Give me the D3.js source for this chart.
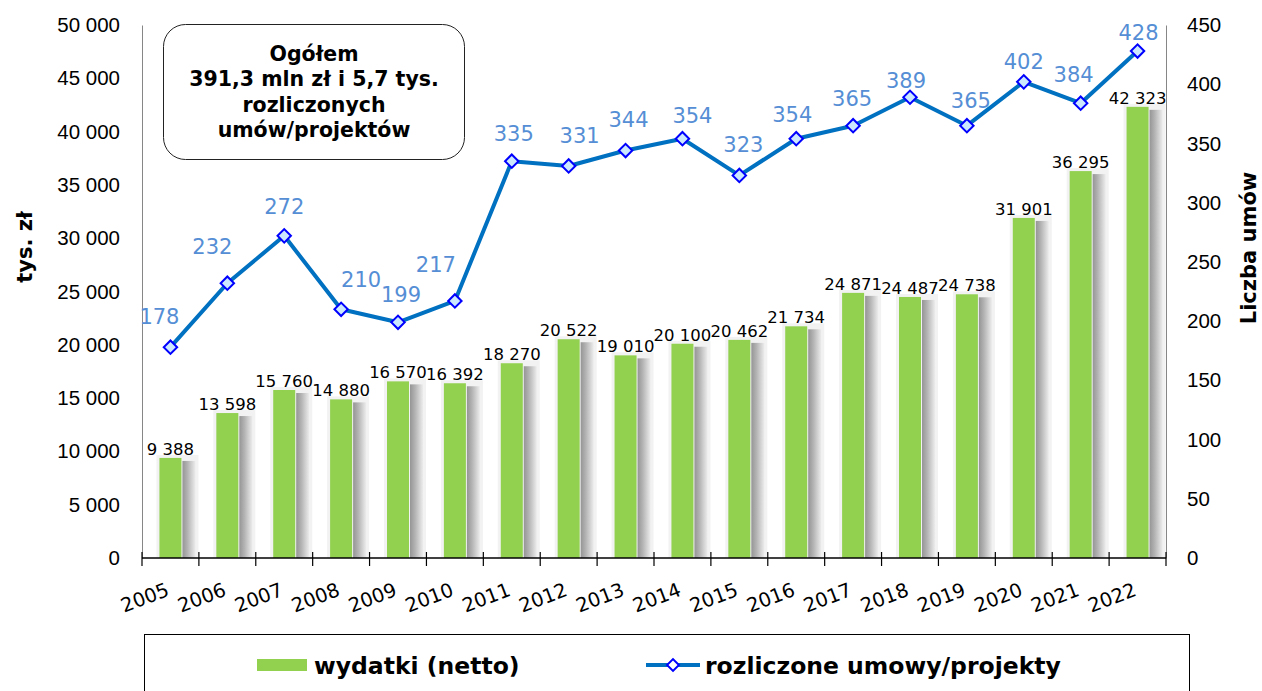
<!DOCTYPE html>
<html>
<head>
<meta charset="utf-8">
<script src="https://cdn.jsdelivr.net/npm/d3@7"></script>
<style>
  body { margin: 0; background: #fff; }
  svg { font-family: "DejaVu Sans", Verdana, sans-serif; }
</style>
</head>
<body>
<svg id="chart" width="1262" height="691"></svg>
<script>
// dane
const years = ["2005","2006","2007","2008","2009","2010","2011","2012","2013","2014","2015","2016","2017","2018","2019","2020","2021","2022"];
const wydatki = [9388,13598,15760,14880,16570,16392,18270,20522,19010,20100,20462,21734,24871,24487,24738,31901,36295,42323];
const umowy = [178,232,272,210,199,217,335,331,344,354,323,354,365,389,365,402,384,428];
const leftTicks = [0,5000,10000,15000,20000,25000,30000,35000,40000,45000,50000];
const rightTicks = [0,50,100,150,200,250,300,350,400,450];
// przesuniecia etykiet linii (jak w oryginale, recznie poprzesuwane)
const labelNudge = [[-11,-30],[-15,-36],[0,-29],[20,-29],[3,-27],[-19,-36],[2,-27],[11,-30],[3,-31],[10,-23],[4,-30],[-4,-24],[-1,-27],[-4,-16],[4,-25],[0,-20],[-7,-28],[1,-18]];

const svg = d3.select("#chart");
const x0 = 142, x1 = 1166, yTop = 25, yBot = 558;

const fmt = d3.formatLocale({decimal: ",", thousands: " ", grouping: [3], currency: ["", ""]}).format(",d");

let x = d3.scaleBand().domain(years).range([x0, x1]).padding(0);
let yL = d3.scaleLinear().domain([0, 50000]).range([yBot, yTop]);
let yR = d3.scaleLinear().domain([0, 450]).range([yBot, yTop]);

// gradient do cienia slupkow
let defs = svg.append("defs");
let grad = defs.append("linearGradient").attr("id", "shadow").attr("x1", "0").attr("x2", "1").attr("y1", "0").attr("y2", "0");
grad.append("stop").attr("offset", "0").attr("stop-color", "#959595");
grad.append("stop").attr("offset", "0.4").attr("stop-color", "#b4b4b4");
grad.append("stop").attr("offset", "1").attr("stop-color", "#ececec");

// osie Y
svg.append("g")
  .attr("transform", `translate(${x0},0)`)
  .call(d3.axisLeft(yL).tickValues(leftTicks).tickSize(0).tickPadding(22).tickFormat(fmt))
  .call(g => g.select(".domain").attr("stroke", "#868686"))
  .selectAll("text").style("font-size", "20.5px").attr("fill", "#000");

svg.append("g")
  .attr("transform", `translate(${x1},0)`)
  .call(d3.axisRight(yR).tickValues(rightTicks).tickSize(0).tickPadding(21))
  .call(g => g.select(".domain").attr("stroke", "#868686"))
  .selectAll("text").style("font-size", "20.5px").attr("fill", "#000");

// slupki
const bw = 22;
let bars = svg.append("g");
years.forEach(function(yr, i) {
  let cx = x(yr) + x.bandwidth() / 2;
  let top = yL(wydatki[i]);
  bars.append("rect")
    .attr("x", cx - bw / 2 - 3).attr("y", top - 3)
    .attr("width", bw + 20).attr("height", yBot - top + 3)
    .attr("fill", "#f2f2f2");
  bars.append("rect")
    .attr("x", cx + bw / 2 + 1).attr("y", top + 3)
    .attr("width", 13).attr("height", yBot - top - 3)
    .attr("fill", "url(#shadow)");
  bars.append("rect")
    .attr("x", cx - bw / 2).attr("y", top)
    .attr("width", bw).attr("height", yBot - top)
    .attr("fill", "#92d050");
  bars.append("text")
    .attr("x", cx).attr("y", top - 3)
    .attr("text-anchor", "middle")
    .style("font-size", "16.5px")
    .text(fmt(wydatki[i]));
});

// os X
let xAxis = svg.append("g").attr("transform", `translate(0,${yBot})`);
xAxis.append("line").attr("x1", x0).attr("x2", x1).attr("stroke", "#000").attr("stroke-width", 1.3);
xAxis.selectAll(".tk").data(d3.range(years.length + 1)).enter().append("line")
  .attr("x1", d => x0 + d * x.bandwidth()).attr("x2", d => x0 + d * x.bandwidth())
  .attr("y1", -6).attr("y2", 8).attr("stroke", "#000").attr("stroke-width", 1.2);
svg.append("g").selectAll("text").data(years).enter().append("text")
  .attr("transform", d => `translate(${x(d) + x.bandwidth() / 2},595) rotate(-21)`)
  .attr("text-anchor", "end")
  .style("font-size", "19.5px")
  .text(d => d);

// linia
let line = d3.line()
  .x((d, i) => x(years[i]) + x.bandwidth() / 2)
  .y(d => yR(d));
svg.append("path").datum(umowy)
  .attr("d", line).attr("fill", "none")
  .attr("stroke", "#0070c0").attr("stroke-width", 4).attr("stroke-linejoin", "round");

let diamond = d3.symbol().type(d3.symbolSquare).size(90);
svg.append("g").selectAll("path").data(umowy).enter().append("path")
  .attr("d", diamond)
  .attr("transform", (d, i) => `translate(${x(years[i]) + x.bandwidth() / 2},${yR(d)}) rotate(45)`)
  .attr("fill", "#cce8ff").attr("stroke", "#0000ff").attr("stroke-width", 2);

svg.append("g").selectAll("text").data(umowy).enter().append("text")
  .attr("x", (d, i) => x(years[i]) + x.bandwidth() / 2 + labelNudge[i][0])
  .attr("y", (d, i) => yR(d) + labelNudge[i][1])
  .attr("text-anchor", "middle").attr("dominant-baseline", "central")
  .attr("fill", "#558ed5")
  .style("font-size", "21px")
  .text(d => d);

// tytuly osi
svg.append("text")
  .attr("transform", "translate(32,247) rotate(-90)")
  .attr("text-anchor", "middle").style("font-size", "21px").style("font-weight", "bold")
  .text("tys. zł");
svg.append("text")
  .attr("transform", "translate(1256,248) rotate(-90)")
  .attr("text-anchor", "middle").style("font-size", "21px").style("font-weight", "bold")
  .text("Liczba umów");

// ramka z podsumowaniem
svg.append("rect")
  .attr("x", 163.5).attr("y", 24.5).attr("width", 301).attr("height", 135).attr("rx", 22)
  .attr("fill", "#fff").attr("stroke", "#222").attr("stroke-width", 1);
const boxLines = ["Ogółem", "391,3 mln zł i 5,7 tys.", "rozliczonych", "umów/projektów"];
svg.append("g").selectAll("text").data(boxLines).enter().append("text")
  .attr("x", 314).attr("y", (d, i) => 61 + i * 25.3)
  .attr("text-anchor", "middle")
  .style("font-size", "20.5px").style("font-weight", "bold")
  .text(d => d);

// legenda
let leg = svg.append("g");
leg.append("rect").attr("x", 144.5).attr("y", 634.5).attr("width", 1045).attr("height", 70)
  .attr("fill", "#fff").attr("stroke", "#000").attr("stroke-width", 1);
leg.append("rect").attr("x", 257).attr("y", 659).attr("width", 50).attr("height", 12).attr("fill", "#92d050");
leg.append("text").attr("x", 314).attr("y", 674).style("font-size", "23.5px").style("font-weight", "bold")
  .text("wydatki (netto)");
leg.append("line").attr("x1", 646).attr("x2", 700).attr("y1", 665).attr("y2", 665)
  .attr("stroke", "#0070c0").attr("stroke-width", 4);
leg.append("path").attr("d", d3.symbol().type(d3.symbolSquare).size(70))
  .attr("transform", "translate(673,665) rotate(45)")
  .attr("fill", "#fff").attr("stroke", "#0000ff").attr("stroke-width", 2);
leg.append("text").attr("x", 705).attr("y", 674).style("font-size", "23.5px").style("font-weight", "bold")
  .text("rozliczone umowy/projekty");
</script>
</body>
</html>
